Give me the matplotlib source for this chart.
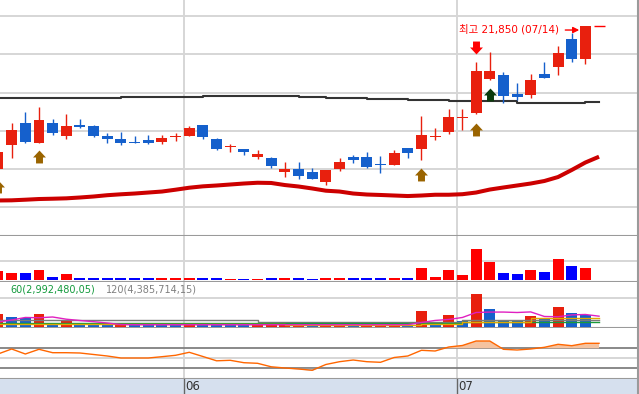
import numpy as np
import matplotlib
matplotlib.use("Agg")
import matplotlib.pyplot as plt
from matplotlib.path import Path

plt.rcParams['font.family'] = ['DejaVu Sans', 'Noto Sans CJK KR']

# ---------------- data ----------------
opens  = [19980, 20290, 20570, 20320, 20580, 20400, 20550, 20540, 20410, 20370,
          20330, 20350, 20330, 20390, 20400, 20550, 20370, 20260, 20230, 20130,
          20120, 19930, 19970, 19930, 19800, 19970, 20130, 20130, 20030, 20030,
          20250, 20240, 20390, 20460, 20640, 20710, 21150, 21200, 20960, 20940,
          21220, 21310, 21680, 21410]
highs  = [20200, 20580, 20720, 20780, 20630, 20700, 20630, 20550, 20450, 20460,
          20410, 20420, 20420, 20450, 20540, 20550, 20380, 20300, 20240, 20220,
          20130, 20070, 20070, 19990, 19960, 20120, 20160, 20200, 20140, 20220,
          20250, 20670, 20510, 20760, 20760, 21370, 21500, 21250, 21100, 21220,
          21370, 21580, 21750, 21850]
lows   = [19970, 20120, 20310, 20320, 20420, 20370, 20510, 20390, 20320, 20290,
          20310, 20300, 20300, 20340, 20400, 20370, 20220, 20190, 20160, 20100,
          19990, 19870, 19840, 19840, 19770, 19950, 20050, 19990, 19920, 20030,
          20120, 20090, 20350, 20430, 20480, 20690, 21140, 20840, 20880, 20900,
          21170, 21200, 21380, 21350]
closes = [20190, 20480, 20330, 20620, 20450, 20540, 20520, 20410, 20370, 20320,
          20310, 20320, 20380, 20400, 20510, 20390, 20240, 20270, 20190, 20170,
          20010, 19980, 19880, 19840, 19960, 20060, 20090, 20000, 20020, 20180,
          20180, 20420, 20410, 20650, 20650, 21260, 21260, 20930, 20920, 21140,
          21170, 21490, 21410, 21850]

# long moving average (dark line) and red moving average, 45 points (last one is one slot ahead)
ma_long = [20900, 20900, 20900, 20900, 20900, 20900, 20900, 20900, 20900, 20915,
           20915, 20915, 20915, 20915, 20915, 20935, 20935, 20935, 20935, 20935,
           20935, 20935, 20915, 20915, 20900, 20900, 20900, 20890, 20890, 20890,
           20880, 20880, 20880, 20870, 20870, 20870, 20870, 20870, 20840, 20840,
           20840, 20840, 20840, 20855, 20855]
ma_red = [19562, 19564, 19572, 19581, 19585, 19590, 19601, 19614, 19631, 19643,
          19653, 19666, 19679, 19703, 19729, 19747, 19758, 19771, 19784, 19794,
          19791, 19764, 19745, 19719, 19690, 19679, 19653, 19640, 19634, 19627,
          19620, 19627, 19637, 19637, 19644, 19666, 19705, 19732, 19758, 19784,
          19817, 19869, 19961, 20059, 20135]

# signal arrows
buy_idx = [0, 3, 31, 35]
buy_price = [19742, 20127, 19895, 20488]
mid_idx = [36]
mid_price = [20939]
sell_idx = [35]
sell_price = [21571]

# upper volume-like panel
vol1 = [370, 290, 290, 410, 120, 240, 80, 80, 80, 80,
        80, 80, 80, 80, 80, 80, 80, 40, 40, 40,
        80, 80, 80, 40, 80, 80, 80, 80, 80, 80,
        80, 490, 120, 410, 200, 1260, 730, 290, 240, 410,
        330, 860, 570, 490]

# volume panel (shares)
vol2 = [9150000, 7040000, 6340000, 9150000, 2110000, 4500000, 2110000, 1440000, 1410000, 2110000,
        1500000, 1400000, 1300000, 1200000, 1500000, 1400000, 1300000, 1200000, 1100000, 1200000,
        1300000, 1400000, 1500000, 1300000, 1400000, 1500000, 1300000, 1400000, 1500000, 1600000,
        1400000, 11260000, 3520000, 8240000, 4220000, 23000000, 12460000, 4720000, 4220000, 7530000,
        5420000, 13870000, 9860000, 8450000]
ma5_vol = [3.31, 4.72, 6.5, 6.3, 6.83, 5.28, 4.36, 3.52, 2.6, 1.5,
           1.4, 1.4, 1.4, 1.4, 1.4, 1.4, 1.4, 1.4, 1.4, 1.4,
           1.4, 1.4, 1.4, 1.4, 1.4, 1.4, 1.4, 1.4, 1.4, 1.4,
           1.45, 2.95, 4.4, 5.1, 6.5, 10.0, 10.3, 10.3, 10.0, 10.4,
           7.2, 7.0, 8.3, 8.6, 7.4]
ma20_vol = [2.1, 2.1, 2.1, 2.1, 2.1, 2.1, 2.1, 2.1, 2.1, 2.1,
            2.1, 2.1, 2.1, 2.1, 2.1, 2.1, 2.1, 2.1, 2.1, 2.1,
            2.1, 1.4, 1.4, 1.4, 1.4, 1.4, 1.4, 1.4, 1.4, 1.4,
            1.4, 1.9, 1.9, 1.9, 3.5, 3.5, 3.5, 3.5, 3.5, 5.9,
            5.9, 5.9, 5.9, 5.9, 5.9]
ma60_vol = [2.39, 2.39, 2.39, 2.39, 2.39, 2.39, 2.39, 2.39, 2.39, 2.39,
            2.39, 2.39, 2.39, 2.39, 2.39, 2.39, 2.39, 2.39, 2.39, 2.39,
            2.39, 2.39, 2.39, 2.39, 2.39, 2.39, 2.39, 2.39, 2.39, 2.39,
            2.39, 2.39, 2.39, 2.39, 2.99, 2.99, 2.99, 2.99, 2.99, 2.99,
            2.99, 2.99, 2.99, 2.99, 2.99]
ma120_vol = [4.5, 4.5, 4.5, 4.5, 4.5, 4.5, 4.5, 4.5, 4.5, 4.5,
             4.5, 4.5, 4.5, 4.5, 4.5, 4.5, 4.5, 4.5, 4.5, 3.55,
             3.55, 3.55, 3.55, 3.55, 3.55, 3.55, 3.55, 3.55, 3.55, 3.55,
             3.55, 3.55, 3.55, 3.55, 4.39, 4.39, 4.39, 4.39, 4.39, 4.39,
             4.39, 4.39, 4.39, 4.39, 4.39]
ma_labels = ['60(2,992,480,05)', '120(4,385,714,15)']

# oscillator panel
osc = [58.6, 68.6, 58.6, 68.0, 61.2, 61.2, 60.6, 57.6, 54.6, 50.6,
       50.6, 50.6, 53.2, 56.0, 62.0, 53.6, 45.0, 46.0, 41.2, 40.0,
       33.0, 30.6, 28.6, 26.0, 37.6, 43.2, 46.6, 43.2, 42.0, 51.6,
       54.6, 66.0, 64.6, 72.6, 75.6, 84.6, 84.6, 68.0, 66.6, 68.6,
       72.0, 78.0, 75.2, 80.0, 80.0]

month_starts = [14, 34]
month_labels = ['06', '07']
high_label = '최고 21,850 (07/14)'

# ---------------- styles ----------------
RED = '#e8200e'
BLUE = '#1560cc'
BORDER = '#9a9a9a'
GRID = '#d6d6d6'

W, H = 639, 394
fig = plt.figure(figsize=(W / 100, H / 100), dpi=100)

def add_ax(top, bottom):
    return fig.add_axes([0, 1 - bottom / H, 638.3 / W, (bottom - top) / H])

ax_p = add_ax(0, 236)
ax_v1 = add_ax(236, 281.7)
ax_v2 = add_ax(281.7, 328.3)
ax_r = add_ax(328.3, 378.5)
ax_d = add_ax(378.5, 394)

XL = (2 / 13.66, 640.3 / 13.66)
for a in (ax_p, ax_v1, ax_v2, ax_r, ax_d):
    a.set_xlim(*XL)
    a.tick_params(length=0, labelleft=False, labelbottom=False)
    for s in ('top', 'left'):
        a.spines[s].set_visible(False)
    for s in ('bottom', 'right'):
        a.spines[s].set_color(BORDER)
        a.spines[s].set_linewidth(1.5)
    a.set_axisbelow(True)
ax_d.spines['bottom'].set_visible(False)

month_pos = [m - 0.42 for m in month_starts]
for a in (ax_p, ax_v1, ax_v2, ax_r):
    for mp in month_pos:
        a.axvline(mp, color=GRID, lw=1.4, zorder=0)

x = np.arange(len(opens))
xl = np.arange(len(ma_red))
o = np.array(opens, float); c = np.array(closes, float)
h = np.array(highs, float); l = np.array(lows, float)
up = c >= o
cols = np.where(up, RED, BLUE)

# ---- price panel ----
ax_p.set_ylim(19097, 22186)
ax_p.set_yticks(np.arange(19475, 22000, 500))
ax_p.grid(axis='y', color=GRID, lw=1.4)
ax_p.plot(xl, ma_long, color='#333333', lw=1.5, drawstyle='steps-post', zorder=2)
ax_p.plot(xl, ma_red, color='#cc0000', lw=2.9, zorder=2, solid_capstyle='butt')
min_body = 14
ax_p.vlines(x, l, h, colors=cols, lw=1.0, zorder=3)
ax_p.bar(x, np.maximum(np.abs(c - o), min_body), width=0.8, bottom=np.minimum(o, c),
         color=cols, lw=0, zorder=4)

up_arrow = Path([(-6.5, 0), (0, 7), (6.5, 0), (3.5, 0), (3.5, -6), (-3.5, -6), (-3.5, 0), (-6.5, 0)],
                closed=True)
down_arrow = Path([(-6.5, 0), (0, -7), (6.5, 0), (3.5, 0), (3.5, 6), (-3.5, 6), (-3.5, 0), (-6.5, 0)],
                  closed=True)
ax_p.plot(buy_idx, buy_price, ls='none', marker=up_arrow, ms=10, mew=0, color='#9a6400', zorder=5)
ax_p.plot(mid_idx, mid_price, ls='none', marker=up_arrow, ms=10, mew=0, color='#0b3a0b', zorder=5)
ax_p.plot(sell_idx, sell_price, ls='none', marker=down_arrow, ms=10, mew=0, color='#ff0000', zorder=5)

hi = int(np.argmax(h))
ax_p.text(hi - 1.93, h[hi] - 50, high_label, ha='right', va='center', color='#ff0000', fontsize=7.5)
ax_p.annotate('', xy=(hi - 0.45, h[hi] - 57), xytext=(hi - 1.47, h[hi] - 57),
              arrowprops=dict(arrowstyle='-|>', color='#ff0000', lw=1.0, mutation_scale=9,
                              shrinkA=0, shrinkB=0))
ax_p.hlines(h[hi], hi + 0.62, hi + 1.42, color='#ff0000', lw=1.0)

# ---- volume panel 1 ----
ax_v1.set_ylim(-80, 1780)
ax_v1.set_yticks([750])
ax_v1.grid(axis='y', color=GRID, lw=1.4)
ax_v1.bar(x, vol1, width=0.8, color=np.where(up, '#ff0000', '#0000ff'), lw=0, zorder=3)

# ---- volume panel 2 ----
v2 = np.array(vol2, float)
v2_up = np.concatenate([[True], v2[1:] > v2[:-1]])
ax_v2.set_ylim(-1.13e6, 31.68e6)
ax_v2.set_yticks([20e6])
ax_v2.grid(axis='y', color=GRID, lw=1.4)
ax_v2.bar(x, v2, width=0.8, color=np.where(v2_up, RED, BLUE), lw=0, zorder=3)
ax_v2.plot(xl, np.array(ma120_vol) * 1e6, color='#7a7a7a', lw=1.0, drawstyle='steps-post', zorder=4)
ax_v2.plot(xl, np.array(ma60_vol) * 1e6, color='#1a9a3a', lw=1.0, drawstyle='steps-post', zorder=4)
ax_v2.plot(xl, np.array(ma20_vol) * 1e6, color='#e0a800', lw=1.0, drawstyle='steps-post', zorder=4)
ax_v2.plot(xl, np.array(ma5_vol) * 1e6, color='#e020c0', lw=1.0, zorder=5)
ax_v2.text(10 / 638.3, 0.837, ma_labels[0], color='#139a3c', fontsize=7,
           transform=ax_v2.transAxes, ha='left', va='center')
ax_v2.text(106 / 638.3, 0.837, ma_labels[1], color='#808080', fontsize=7,
           transform=ax_v2.transAxes, ha='left', va='center')

# ---- oscillator panel ----
r = np.array(osc)
ax_r.set_ylim(9.6, 110)
ax_r.axhline(50, color=GRID, lw=1.4, zorder=0)
ax_r.axhline(70, color='#808080', lw=1.3, zorder=1)
ax_r.axhline(30, color='#808080', lw=1.3, zorder=1)
ax_r.fill_between(xl, r, 70, where=r >= 70, interpolate=True, color='#f5c3a0', lw=0, zorder=2)
ax_r.fill_between(xl, r, 30, where=r <= 30, interpolate=True, color='#b4c4d4', lw=0, zorder=2)
ax_r.plot(xl, r, color='#ff6600', lw=1.0, zorder=3)

# ---- date axis ----
ax_d.set_facecolor('#d6e0ee')
ax_d.set_ylim(0, 1)
for mp, lab in zip(month_pos, month_labels):
    ax_d.axvline(mp, color='#666666', lw=1.0)
    ax_d.annotate(lab, xy=(mp, 0.5), xycoords=('data', 'axes fraction'), xytext=(1.2, 0),
                  textcoords='offset points', ha='left', va='center', fontsize=8.5,
                  color='#333333', family=['Liberation Sans Narrow', 'DejaVu Sans'])

fig.savefig('out.png', dpi=100)
